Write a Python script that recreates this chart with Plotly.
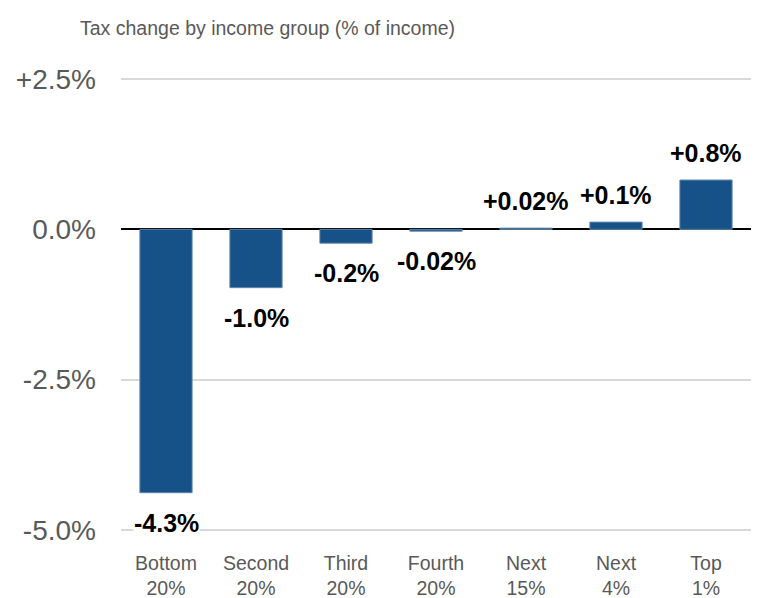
import plotly.graph_objects as go

categories = ["Bottom<br>20%", "Second<br>20%", "Third<br>20%", "Fourth<br>20%",
              "Next<br>15%", "Next<br>4%", "Top<br>1%"]
values = [-4.38, -0.97, -0.23, -0.03, 0.02, 0.12, 0.82]
value_labels = ["-4.3%", "-1.0%", "-0.2%", "-0.02%", "+0.02%", "+0.1%", "+0.8%"]
tick_vals = [-5.0, -2.5, 0.0, 2.5]
tick_text = ["-5.0%", "-2.5%", "0.0%", "+2.5%"]

BAR = "#165288"
FONT = "Liberation Sans, Arial, sans-serif"

Y_LO, Y_HI = -5.05, 2.55

fig = go.Figure()
fig.add_trace(go.Bar(
    x=categories, y=values,
    marker=dict(color=BAR, line=dict(color="#5f86ad", width=1)),
    width=0.58, hoverinfo="skip",
))

annotations = []
for c, v, t in zip(categories, values, value_labels):
    neg = v < 0
    annotations.append(dict(
        x=c, y=v, xref="x", yref="y", text=f"<b>{t}</b>", showarrow=False,
        yanchor="top" if neg else "bottom",
        yshift=-15 if neg else 12,
        font=dict(family=FONT, size=25, color="#000000"),
        bgcolor="white", borderpad=0,
    ))

L, R, T, B = 121, 8, 76, 65
pw, ph = 759 - L - R, 598 - T - B
annotations.append(dict(
    x=(78 - L) / pw, y=(598 - B - 28) / ph, xref="paper", yref="paper",
    text="Tax change by income group (% of income)",
    showarrow=False, xanchor="left", yanchor="middle",
    font=dict(family=FONT, size=19.5, color="#595959"),
))

fig.update_layout(
    width=759, height=598,
    margin=dict(l=L, r=R, t=T, b=B),
    plot_bgcolor="white", paper_bgcolor="white",
    showlegend=False,
    font=dict(family=FONT),
    annotations=annotations,
)

fig.update_yaxes(
    range=[Y_LO, Y_HI], tickvals=tick_vals, ticktext=tick_text,
    showgrid=True, gridcolor="#d9d9d9", gridwidth=1.5,
    zeroline=True, zerolinecolor="#000000", zerolinewidth=2,
    tickfont=dict(family=FONT, size=28, color="#595959"),
    ticklabelstandoff=24, showline=False, automargin=False,
)
fig.update_xaxes(
    tickfont=dict(family=FONT, size=19.5, color="#595959"),
    ticklabelstandoff=16, showline=False, showgrid=False, automargin=False,
)

fig.write_html("out.html")
